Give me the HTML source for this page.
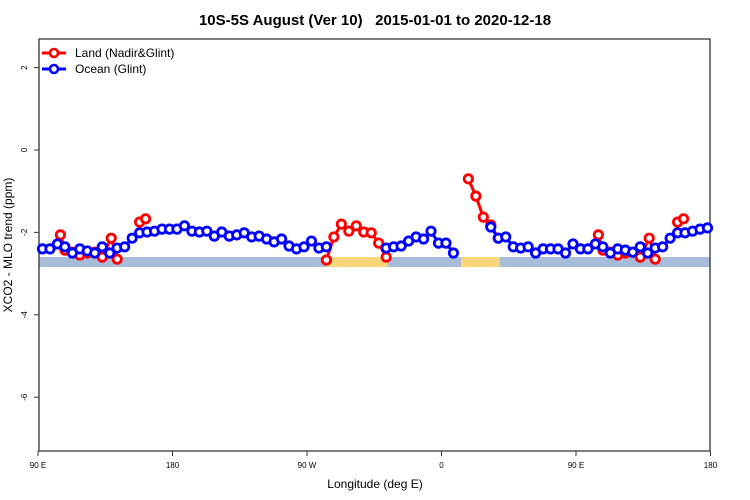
<!DOCTYPE html>
<html><head><meta charset="utf-8"><style>
body{margin:0;background:#fff;}
svg{display:block;font-family:"Liberation Sans",sans-serif;}
</style></head><body>
<svg id="chart" width="750" height="500">
<text x="375" y="25" text-anchor="middle" font-size="15" font-weight="bold" style="white-space:pre">10S-5S August (Ver 10)   2015-01-01 to 2020-12-18</text>
<text x="375" y="488" text-anchor="middle" font-size="12">Longitude (deg E)</text>
<text transform="translate(12,245) rotate(-90)" text-anchor="middle" font-size="12">XCO2 - MLO trend (ppm)</text>
<g id="plot"></g>
</svg>
<script>
const xTickVals=[90,180,270,360,450,540];
const xTickLabels=["90 E","180","90 W","0","90 E","180"];
const yTickVals=[2,0,-2,-4,-6];
const oceanStart=93, oceanStep=5;
const oceanVals=[-2.40,-2.40,-2.28,-2.35,-2.50,-2.40,-2.45,-2.50,-2.35,-2.50,-2.38,-2.35,-2.14,-2.01,-1.99,-1.97,-1.92,-1.92,-1.92,-1.84,-1.97,-1.99,-1.97,-2.09,-1.99,-2.09,-2.06,-2.01,-2.11,-2.09,-2.16,-2.23,-2.16,-2.33,-2.40,-2.35,-2.21,-2.38,-2.35,
null,null,null,null,null,null,null,
-2.38,-2.35,-2.33,-2.21,-2.11,-2.16,-1.97,-2.26,-2.26,-2.50,
null,null,null,null,
-1.87,-2.14,-2.11,-2.35,-2.38,-2.35,-2.50,-2.40,-2.40,-2.40,-2.50,-2.28,-2.40,-2.40,-2.28,-2.35,-2.50,-2.40,-2.43,-2.48,-2.35,-2.50,-2.38,-2.35,-2.14,-2.01,-2.01,-1.97,-1.92,-1.89];
const landLons=[105,108,113,118,123,128,133,139,143,158,162,283,288,293,298,303,308,313,318,323,378,383,388,393,398,465,468,473,478,483,488,493,499,503,518,522];
const landVals=[-2.06,-2.43,-2.48,-2.55,-2.50,-2.48,-2.60,-2.14,-2.65,-1.75,-1.67,-2.67,-2.11,-1.80,-1.97,-1.84,-1.99,-2.01,-2.26,-2.60,-0.70,-1.12,-1.63,-1.82,-2.14,-2.06,-2.43,-2.48,-2.55,-2.50,-2.48,-2.60,-2.14,-2.65,-1.75,-1.67];
const landBandStarts=[283,373];
const landBandEnds=[324,399];

const L=39,R=710,T=39,B=451;
function xs(v){return 38+(v-90)*1.4944;}
function ys(v){return 150-v*41.2;}
const NS="http://www.w3.org/2000/svg";
const g=document.getElementById('plot');
function mk(t,a){const e=document.createElementNS(NS,t);for(const k in a)e.setAttribute(k,a[k]);g.appendChild(e);return e;}

let band=mk('rect',{x:L,y:257,width:R-L,height:10,fill:'#a7bcd9'});


for(let i=0;i<landBandStarts.length;i++){
  const r=mk('rect',{x:xs(landBandStarts[i]),y:257,width:xs(landBandEnds[i])-xs(landBandStarts[i]),height:10,fill:'#f9d67a'});
  
  
}
let box=mk('path',{d:`M${L},${T}H${R}V${B}H${L}Z`,fill:'none',stroke:'#333','stroke-width':1.3});


xTickVals.forEach((v,i)=>{
  const x=xs(v);
  const t=mk('line',{x1:x,x2:x,y1:B,y2:B+5,stroke:'#333'});
  
  
  const l=mk('text',{x:x,y:B+17,'text-anchor':'middle','font-size':8});
  l.textContent=xTickLabels[i];
  
  
});
yTickVals.forEach(v=>{
  const y=ys(v);
  const t=mk('line',{x1:L-5,x2:L,y1:y,y2:y,stroke:'#333'});
  
  
  const l=mk('text',{transform:`translate(27,${y}) rotate(-90)`,'text-anchor':'middle','font-size':8});
  l.textContent=String(v);
  
  
});
function drawSeries(lons,vals,color,name){
  let d='',prev=null;
  lons.forEach((lo,i)=>{const v=vals[i];if(v==null){prev=null;return;}
    d+=(prev!=null&&lo-prev<=6.5?'L':'M')+xs(lo)+','+ys(v);prev=lo;});
  const p=mk('path',{d:d,fill:'none',stroke:color,'stroke-width':3});
  
  
  lons.forEach((lo,i)=>{const v=vals[i];if(v==null)return;
    const c=mk('circle',{cx:xs(lo),cy:ys(v),r:4.2,fill:'#fff',stroke:color,'stroke-width':2.8});
    
    
  });
}
const oceanLons=oceanVals.map((v,i)=>oceanStart+i*oceanStep);
drawSeries(landLons,landVals,'#ff0000','land');
drawSeries(oceanLons,oceanVals,'#0000ff','ocean');
[['Land (Nadir&Glint)','#ff0000',53],['Ocean (Glint)','#0000ff',69]].forEach(([t,c,y])=>{
  const l=mk('line',{x1:42,x2:66,y1:y,y2:y,stroke:c,'stroke-width':3});
  
  
  const ci=mk('circle',{cx:54,cy:y,r:4,fill:'#fff',stroke:c,'stroke-width':2.6});
  
  
  const tx=mk('text',{x:75,y:y+4,'font-size':12});
  tx.textContent=t;
  
  
});
</script>
</body></html>
